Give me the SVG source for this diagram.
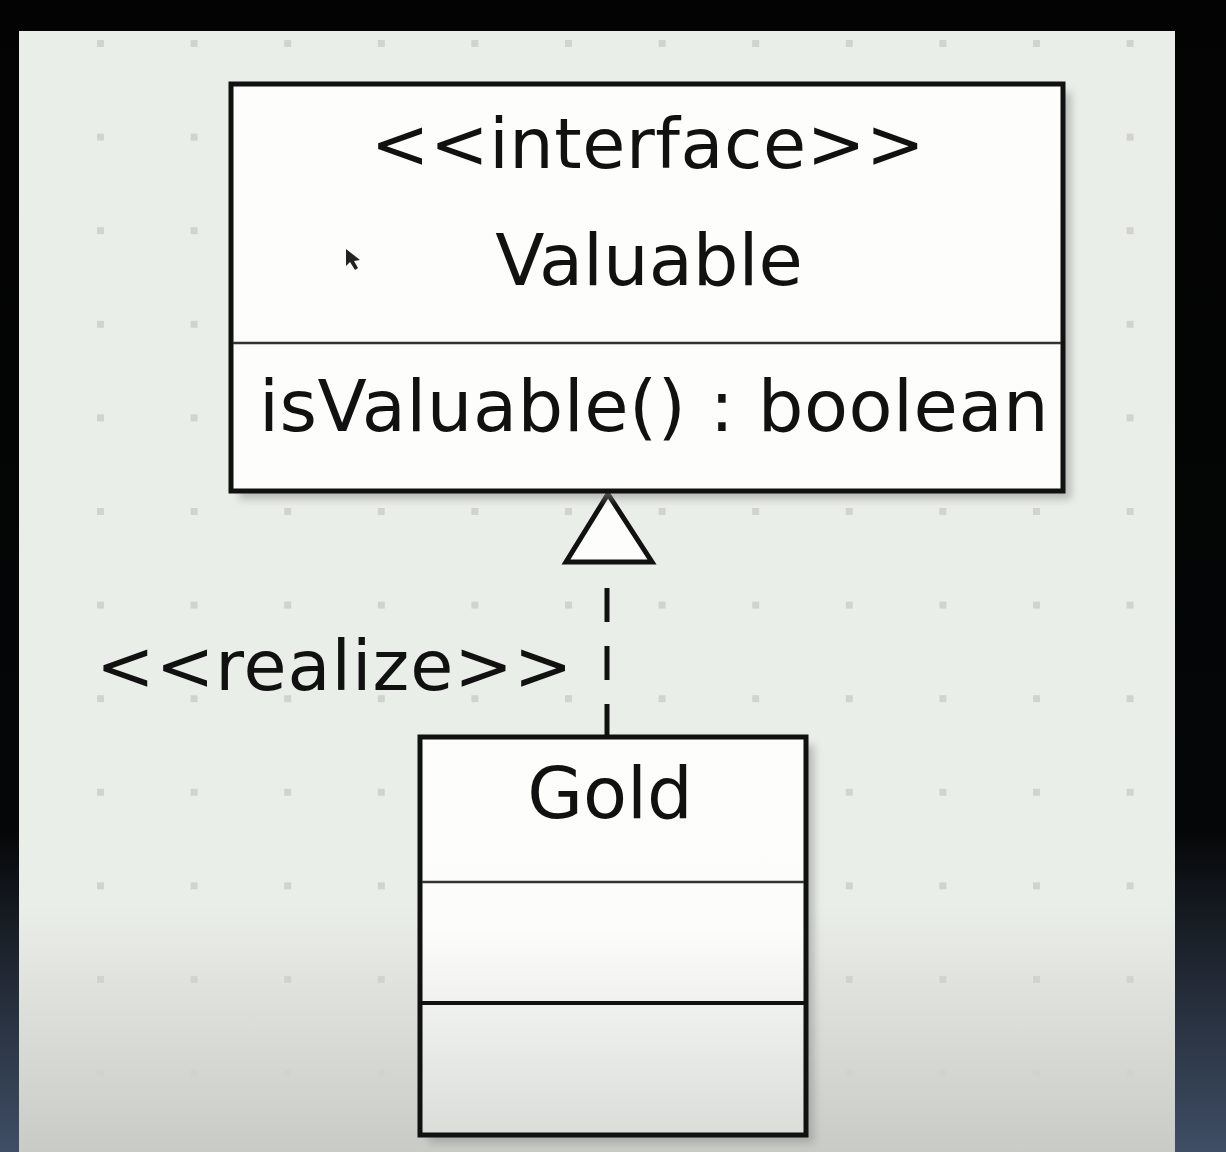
<svg xmlns="http://www.w3.org/2000/svg" width="1226" height="1152" viewBox="0 0 1226 1152">
  <defs>
    <linearGradient id="bgOuter" x1="0" y1="0" x2="0" y2="1">
      <stop offset="0" stop-color="#030303"/>
      <stop offset="0.72" stop-color="#050607"/>
      <stop offset="0.82" stop-color="#1c222b"/>
      <stop offset="1" stop-color="#3f4e66"/>
    </linearGradient>
    <linearGradient id="panelShade" x1="0" y1="0" x2="0" y2="1">
      <stop offset="0" stop-color="#eaeee8"/>
      <stop offset="0.78" stop-color="#eaeee8"/>
      <stop offset="1" stop-color="#c9cbc6"/>
    </linearGradient>
    <linearGradient id="boxShade" x1="0" y1="0" x2="0" y2="1550" gradientUnits="userSpaceOnUse">
      <stop offset="0" stop-color="#fdfefb"/>
      <stop offset="0.6" stop-color="#fcfdfa"/>
      <stop offset="0.74" stop-color="#d9dbd7"/>
    </linearGradient>
    <filter id="shadow" x="-10%" y="-10%" width="130%" height="130%">
      <feGaussianBlur stdDeviation="4"/>
    </filter>
    <pattern id="dots" x="97" y="40" width="93.6" height="93.6" patternUnits="userSpaceOnUse">
      <rect x="0" y="0" width="7" height="7" fill="#d0d3ce"/>
    </pattern>
  </defs>
  <style>
    .txt { font-family: "DejaVu Sans", Verdana, sans-serif; fill: #111; }
    .box { fill: url(#boxShade); stroke: #111; stroke-width: 5; }
    .sep { stroke: #333; stroke-width: 2.5; }
    .sepDark { stroke: #111; stroke-width: 4; }
    .shadow { fill: #8a8d89; opacity: 0.55; filter: url(#shadow); }
  </style>

  <rect x="0" y="0" width="1226" height="1152" fill="url(#bgOuter)"/>
  <rect x="19" y="31" width="1156" height="1121" fill="url(#panelShade)"/>
  <rect x="19" y="31" width="1156" height="1121" fill="url(#dots)"/>

  <g id="connectors">
    <line x1="607" y1="588" x2="607" y2="737" stroke="#111" stroke-width="5" stroke-dasharray="34 24"/>
    <polygon points="608,494 652,562 566,562" fill="#fdfefb" stroke="#111" stroke-width="5" stroke-linejoin="miter"/>
    <text class="txt" x="96" y="690" font-size="70" letter-spacing="1">&lt;&lt;realize&gt;&gt;</text>
  </g>

  <g id="valuable">
    <rect class="shadow" x="239" y="92" width="832" height="407"/>
    <rect class="box" x="231" y="84" width="832" height="407"/>
    <line class="sep" x1="233" y1="343" x2="1061" y2="343"/>
    <text class="txt" x="648" y="168" font-size="70" text-anchor="middle" letter-spacing="0.6">&lt;&lt;interface&gt;&gt;</text>
    <text class="txt" x="649" y="285" font-size="72" text-anchor="middle">Valuable</text>
    <text class="txt" x="259" y="431" font-size="72" letter-spacing="0.5">isValuable() : boolean</text>
  </g>

  <g id="gold">
    <rect class="shadow" x="428" y="745" width="386" height="398"/>
    <rect class="box" x="420" y="737" width="386" height="398"/>
    <line class="sep" x1="422" y1="882" x2="804" y2="882"/>
    <line class="sepDark" x1="422" y1="1003" x2="804" y2="1003"/>
    <text class="txt" x="610" y="818" font-size="72" text-anchor="middle">Gold</text>
  </g>

  <path id="cursor" d="M346,249 L346,266 L350,262 L355,270 L358,268 L354,261 L360,260 Z" fill="#222"/>
</svg>
